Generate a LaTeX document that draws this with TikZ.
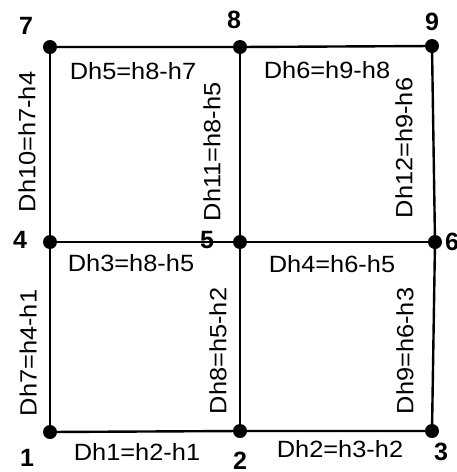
\documentclass[tikz,border=0pt]{standalone}
\usepackage{fontspec}
\setmainfont{Liberation Sans}
\newfontfamily\lblfont[FakeStretch=1.08]{Liberation Sans}
\usetikzlibrary{positioning}

\begin{document}
\begin{tikzpicture}[
    x=1pt,y=-1pt,
    line width=2.4pt,
    dot/.style={circle, fill, inner sep=0pt, minimum size=14pt},
    num/.style={font=\fontsize{25}{25}\selectfont\bfseries, inner sep=0pt},
    lbl/.style={font=\lblfont\fontsize{23.5}{23.5}\selectfont, inner sep=0pt}
]
    \useasboundingbox (0,0) rectangle (457,472);

    % grid nodes
    \node[dot] (n7) at (50,47)   {};
    \node[dot] (n8) at (240,47)  {};
    \node[dot] (n9) at (432,46)  {};
    \node[dot] (n4) at (50,242)  {};
    \node[dot] (n5) at (240,242) {};
    \node[dot] (n6) at (435,242) {};
    \node[dot] (n1) at (50,432)  {};
    \node[dot] (n2) at (240,431) {};
    \node[dot] (n3) at (432,431) {};

    \draw (n7.center) -- (n8.center) -- (n9.center);
    \draw (n4.center) -- (n5.center) -- (n6.center);
    \draw (n1.center) -- (n2.center) -- (n3.center);
    \draw (n7.center) -- (n4.center) -- (n1.center);
    \draw (n8.center) -- (n5.center) -- (n2.center);
    \draw (n9.center) -- (n6.center) -- (n3.center);

    % node numbers
    \node[num] (t7) at (26,26)  {7};
    \node[num] (t8) at (234,20) {8};
    \node[num] (t9) at (432,22) {9};
    \node[num] (t4) at (20,240) {4};
    \node[num] (t5) at (207,240) {5};
    \node[num] (t6) at (452,242) {6};
    \node[num] (t1) at (27,458) {1};
    \node[num] (t2) at (240,461) {2};
    \node[num] (t3) at (441,452) {3};

    % differences
    \node[lbl] (d5) at (133,71)  {Dh5=h8-h7};
    \node[lbl] (d6) at (327,70)  {Dh6=h9-h8};
    \node[lbl] (d3) at (131,263) {Dh3=h8-h5};
    \node[lbl] (d4) at (332,264) {Dh4=h6-h5};
    \node[lbl] (d1) at (137,452) {Dh1=h2-h1};
    \node[lbl] (d2) at (340,449) {Dh2=h3-h2};
    \node[lbl, rotate=90] (d10) at (27,142)  {Dh10=h7-h4};
    \node[lbl, rotate=90] (d11) at (212,152) {Dh11=h8-h5};
    \node[lbl, rotate=90] (d12) at (404,148) {Dh12=h9-h6};
    \node[lbl, rotate=90] (d7)  at (28,353)  {Dh7=h4-h1};
    \node[lbl, rotate=90] (d8)  at (218,351) {Dh8=h5-h2};
    \node[lbl, rotate=90] (d9)  at (405,351) {Dh9=h6-h3};
\end{tikzpicture}
\end{document}
